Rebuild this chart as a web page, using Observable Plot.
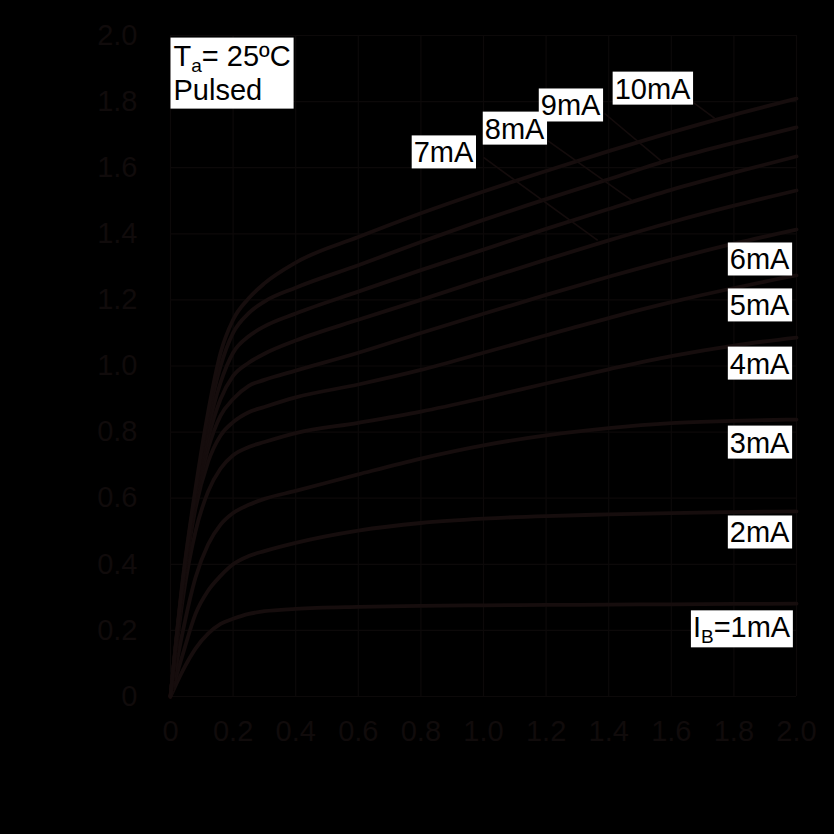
<!DOCTYPE html>
<html>
<head>
<meta charset="utf-8">
<script src="https://cdn.jsdelivr.net/npm/d3@7"></script>
<script src="https://cdn.jsdelivr.net/npm/@observablehq/plot@0.6"></script>
<style>
  html, body { margin: 0; padding: 0; background: #000; }
  svg { display: block; }
</style>
</head>
<body>
<script>
// Collector-emitter voltage samples (V)
const vce = [0, 0.04, 0.08, 0.12, 0.16, 0.2, 0.25, 0.3, 0.4, 0.6, 0.8, 1.0, 1.2, 1.4, 1.6, 1.8, 2.0];

// Collector current (A) for each base current
const ic1mA  = [0, 0.08, 0.145, 0.19, 0.22, 0.235, 0.25, 0.258, 0.265, 0.271, 0.274, 0.276, 0.277, 0.278, 0.279, 0.28, 0.281];
const ic2mA  = [0, 0.13, 0.25, 0.32, 0.365, 0.40, 0.425, 0.44, 0.465, 0.502, 0.525, 0.538, 0.546, 0.551, 0.555, 0.558, 0.56];
const ic3mA  = [0, 0.2, 0.36, 0.46, 0.52, 0.555, 0.58, 0.598, 0.622, 0.672, 0.72, 0.76, 0.79, 0.812, 0.827, 0.834, 0.838];
const ic4mA  = [0, 0.3, 0.5, 0.62, 0.69, 0.73, 0.755, 0.77, 0.797, 0.828, 0.862, 0.903, 0.947, 0.99, 1.03, 1.062, 1.086];
const ic5mA  = [0, 0.33, 0.57, 0.71, 0.79, 0.83, 0.86, 0.876, 0.905, 0.944, 0.988, 1.04, 1.093, 1.145, 1.193, 1.236, 1.274];
const ic6mA  = [0, 0.34, 0.59, 0.75, 0.85, 0.9, 0.94, 0.958, 0.986, 1.04, 1.1, 1.158, 1.215, 1.27, 1.322, 1.37, 1.413];
const ic7mA  = [0, 0.345, 0.6, 0.78, 0.9, 0.97, 1.01, 1.037, 1.077, 1.14, 1.2, 1.262, 1.322, 1.38, 1.435, 1.485, 1.531];
const ic8mA  = [0, 0.35, 0.61, 0.81, 0.95, 1.04, 1.09, 1.12, 1.159, 1.225, 1.29, 1.352, 1.415, 1.475, 1.533, 1.585, 1.634];
const ic9mA  = [0, 0.355, 0.62, 0.84, 1.0, 1.1, 1.16, 1.195, 1.237, 1.305, 1.375, 1.442, 1.505, 1.565, 1.625, 1.675, 1.722];
const ic10mA = [0, 0.36, 0.63, 0.86, 1.04, 1.14, 1.205, 1.25, 1.313, 1.39, 1.462, 1.528, 1.59, 1.65, 1.707, 1.76, 1.809];

const baseCurrents = ["1mA", "2mA", "3mA", "4mA", "5mA", "6mA", "7mA", "8mA", "9mA", "10mA"];
const series = [ic1mA, ic2mA, ic3mA, ic4mA, ic5mA, ic6mA, ic7mA, ic8mA, ic9mA, ic10mA];

// Tick values and labels
const ticks = [0, 0.2, 0.4, 0.6, 0.8, 1.0, 1.2, 1.4, 1.6, 1.8, 2.0];
const tickLabels = ["0", "0.2", "0.4", "0.6", "0.8", "1.0", "1.2", "1.4", "1.6", "1.8", "2.0"];

// Curve labels (anchor in data units: VCE, IC)
const labelText = ["7mA", "8mA", "9mA", "10mA", "6mA", "5mA", "4mA", "3mA", "2mA", "I_B=1mA"];
const labelX    = [0.777, 1.004, 1.183, 1.419, 1.787, 1.787, 1.787, 1.787, 1.787, 1.669];
const labelY    = [1.616, 1.688, 1.758, 1.809, 1.292, 1.153, 0.977, 0.738, 0.466, 0.179];

// Leader lines from labels to curves
const leaderX1 = [1.0, 1.205, 1.387, 1.662];
const leaderY1 = [1.631, 1.682, 1.764, 1.803];
const leaderX2 = [1.365, 1.474, 1.573, 1.739];
const leaderY2 = [1.38, 1.501, 1.616, 1.749];

// Condition note
const condText = ["T_a= 25ºC", "Pulsed"];
const condX = [0.0096, 0.0096];
const condY = [1.909, 1.806];

const rows = [];
series.forEach((arr, k) => arr.forEach((ic, j) => rows.push({ib: baseCurrents[k], v: vce[j], i: ic})));
const labels = labelText.map((t, k) => ({t, x: labelX[k], y: labelY[k]}));
const leaders = leaderX1.map((_, k) => ({x1: leaderX1[k], y1: leaderY1[k], x2: leaderX2[k], y2: leaderY2[k]}));
const cond = condText.map((t, k) => ({t, x: condX[k], y: condY[k]}));

const gridColor = "#0c0909";
const curveColor = "#160d0d";
const tickColor = "#100b0b";
const fmt = d => tickLabels[ticks.findIndex(t => Math.abs(t - d) < 1e-9)];
const FS = 29;

const chart = Plot.plot({
  width: 834,
  height: 834,
  marginLeft: 170,
  marginRight: 38,
  marginTop: 35,
  marginBottom: 138,
  style: {background: "#000", fontFamily: "'Liberation Sans', Arial, sans-serif"},
  x: {domain: [0, 2], label: null},
  y: {domain: [0, 2], label: null},
  marks: [
    Plot.gridX(ticks, {stroke: gridColor, strokeOpacity: 1, strokeWidth: 1.2}),
    Plot.gridY(ticks, {stroke: gridColor, strokeOpacity: 1, strokeWidth: 1.2}),
    Plot.line(rows, {x: "v", y: "i", z: "ib", stroke: curveColor, strokeWidth: 3.8, curve: "monotone-x"}),
    Plot.link(leaders, {x1: "x1", y1: "y1", x2: "x2", y2: "y2", stroke: "#140c0c", strokeWidth: 1.6}),
    Plot.text(labels, {x: "x", y: "y", text: "t", textAnchor: "start", lineAnchor: "bottom", fontSize: FS, fill: "#000", className: "lbl"}),
    Plot.text(cond, {x: "x", y: "y", text: "t", textAnchor: "start", lineAnchor: "bottom", fontSize: FS, fill: "#000", className: "cond"}),
    Plot.axisX(ticks, {tickSize: 0, tickPadding: 24, fontSize: FS, fill: tickColor, tickFormat: fmt, label: null}),
    Plot.axisY(ticks, {tickSize: 0, tickPadding: 33, fontSize: FS, fill: tickColor, tickFormat: fmt, label: null})
  ]
});
document.body.append(chart);

// Subscripts: "X_yrest" -> X<sub>y</sub>rest
const NS = "http://www.w3.org/2000/svg";
chart.querySelectorAll("g.lbl text, g.cond text").forEach(el => {
  const s = el.textContent;
  const m = s.match(/^(.)_(.)(.*)$/);
  if (!m) return;
  el.textContent = "";
  el.appendChild(document.createTextNode(m[1]));
  const sub = document.createElementNS(NS, "tspan");
  sub.setAttribute("dy", "6");
  sub.setAttribute("font-size", "19");
  sub.textContent = m[2];
  el.appendChild(sub);
  const rest = document.createElementNS(NS, "tspan");
  rest.setAttribute("dy", "-6");
  rest.textContent = m[3];
  el.appendChild(rest);
});

// White boxes behind labels
const svgBox = chart.getBoundingClientRect();
function addBox(parentG, r, pad) {
  const rect = document.createElementNS(NS, "rect");
  rect.setAttribute("x", r.left - svgBox.left - pad.l);
  rect.setAttribute("y", r.top - svgBox.top - pad.t);
  rect.setAttribute("width", r.width + pad.l + pad.r);
  rect.setAttribute("height", r.height + pad.t + pad.b);
  rect.setAttribute("fill", "#fff");
  chart.insertBefore(rect, parentG);
}
const lblG = chart.querySelector("g.lbl");
lblG.querySelectorAll("text").forEach(el => addBox(lblG, el.getBoundingClientRect(), {l: 2, r: 2, t: 1, b: 0}));
const condG = chart.querySelector("g.cond");
let u = null;
condG.querySelectorAll("text").forEach(el => {
  const r = el.getBoundingClientRect();
  if (!u) u = {left: r.left, top: r.top, right: r.right, bottom: r.bottom};
  else { u.left = Math.min(u.left, r.left); u.top = Math.min(u.top, r.top); u.right = Math.max(u.right, r.right); u.bottom = Math.max(u.bottom, r.bottom); }
});
addBox(condG, {left: u.left, top: u.top, width: u.right - u.left, height: u.bottom - u.top}, {l: 3, r: 3, t: 2, b: 3});
</script>
</body>
</html>
